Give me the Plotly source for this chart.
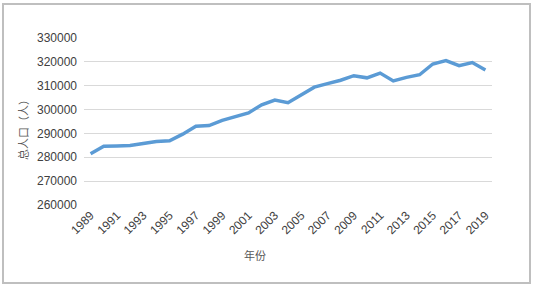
import plotly.graph_objects as go

years = list(range(1989, 2020))
population = [281500, 284600, 284700, 284900, 285800, 286600, 286900, 289700, 293000, 293300,
              295500, 297100, 298600, 302000, 304000, 302900, 306000, 309400, 310900, 312300,
              314200, 313300, 315300, 312000, 313500, 314600, 319100, 320500, 318400, 319700, 316600]
y_ticks = [260000, 270000, 280000, 290000, 300000, 310000, 320000, 330000]
x_ticks = list(range(1989, 2020, 2))

fig = go.Figure()
fig.add_trace(go.Scatter(x=years, y=population, mode="lines",
                         line=dict(color="#5B9BD5", width=3.5)))

L, R, T, B = 84, 41, 38, 83
W, H = 533, 288
pw, ph = W - L - R, H - T - B

fig.update_layout(
    width=W, height=H,
    margin=dict(l=L, r=R, t=T, b=B),
    paper_bgcolor="white", plot_bgcolor="white",
    showlegend=False,
    font=dict(family="Liberation Sans, Arial", size=12, color="#404040"),
    xaxis=dict(range=[1988.5, 2019.5], tickvals=x_ticks, ticktext=[str(v) for v in x_ticks],
               tickangle=-45, showgrid=False, zeroline=False, showline=False, ticks="",
               tickfont=dict(size=12)),
    yaxis=dict(range=[260000, 330000], tickvals=y_ticks, showgrid=True, gridcolor="#D9D9D9",
               gridwidth=1, zeroline=False, showline=False, ticks="", tickformat="d",
               ticklabelstandoff=6, tickfont=dict(size=12)),
    shapes=[dict(type="rect", xref="paper", yref="paper",
                 x0=(3 - L) / pw, x1=(530 - L) / pw,
                 y0=(H - B - 283) / ph, y1=(H - B - 4) / ph,
                 line=dict(color="#BFBFBF", width=2))],
    annotations=[
        dict(text="总人口（人）", xref="paper", yref="paper",
             x=(13 - L) / pw, y=(H - B - 127) / ph, textangle=-90, showarrow=False,
             font=dict(family="Noto Sans CJK SC", size=11, color="#595959")),
        dict(text="年份", xref="paper", yref="paper",
             x=(255 - L) / pw, y=(H - B - 265) / ph, showarrow=False,
             font=dict(family="Noto Sans CJK SC", size=11, color="#595959")),
    ],
)

fig.write_html("out.html", config={"displayModeBar": False},
               post_script="document.body.style.margin='0';document.body.style.overflow='hidden';")
